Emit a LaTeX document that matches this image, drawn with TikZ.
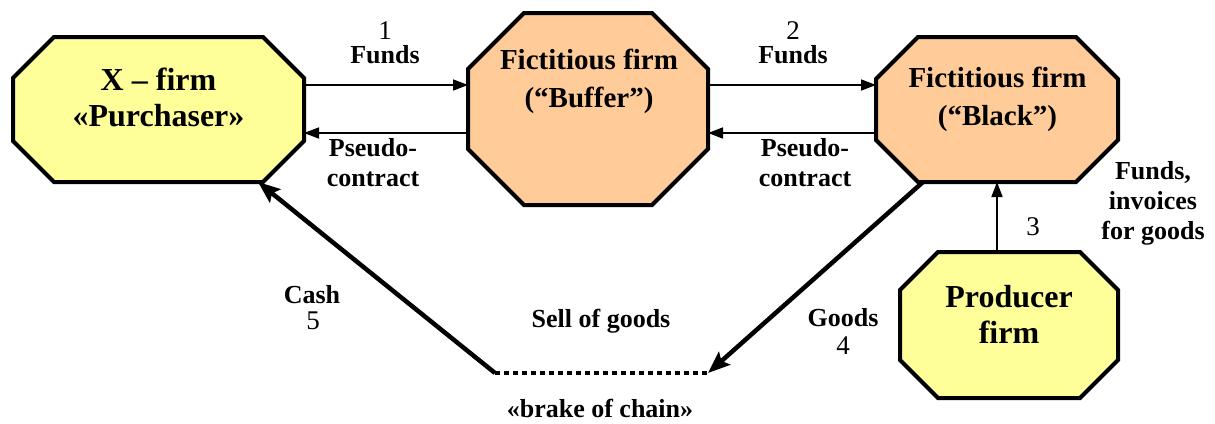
\documentclass[tikz,border=0pt]{standalone}
\usepackage{fontspec}
\setmainfont{Liberation Serif}[BoldFont={Liberation Serif Bold}]
\usetikzlibrary{arrows.meta,calc,backgrounds}
\definecolor{yel}{HTML}{FFFF99}
\definecolor{ora}{HTML}{FFCC99}
\tikzset{
  shapebox/.style n args={2}{draw=none, inner sep=0pt, outer sep=0pt, minimum width=#1, minimum height=#2},
  octline/.style={draw=black, line width=4pt, line join=miter},
  bigtxt/.style={align=center, inner sep=0pt, font=\fontsize{32}{36}\selectfont\bfseries},
  midtxt/.style={align=center, inner sep=0pt, font=\fontsize{29}{38}\selectfont\bfseries},
  lbl/.style={align=center, inner sep=0pt, font=\fontsize{26}{30}\selectfont\bfseries},
  num/.style={inner sep=0pt, font=\fontsize{27}{30}\selectfont},
  thin/.style={line width=1.6pt, -{Triangle[length=15pt,width=11pt]}},
  thick/.style={line width=4.5pt, -{Stealth[length=22pt,width=17pt,inset=4pt]}},
}
\newcommand\octagon[3]{%
  \filldraw[octline, fill=#3] ([xshift=#2]#1.north west) -- ([xshift=-#2]#1.north east)
    -- ([yshift=-#2]#1.north east) -- ([yshift=#2]#1.south east)
    -- ([xshift=-#2]#1.south east) -- ([xshift=#2]#1.south west)
    -- ([yshift=#2]#1.south west) -- ([yshift=-#2]#1.north west) -- cycle;}
\begin{document}
\begin{tikzpicture}[x=1pt,y=-1pt]
\useasboundingbox (0,0) rectangle (1215,423);
% shapes
\node[shapebox={291pt}{145pt}] (X) at (158.5,109.5) {};
\node[shapebox={240pt}{192pt}] (Bu) at (588,109) {};
\node[shapebox={242pt}{145pt}] (Bl) at (997,109.5) {};
\node[shapebox={218pt}{146pt}] (P) at (1009,325) {};
\begin{scope}[on background layer]
  \octagon{X}{41pt}{yel}
  \octagon{Bu}{56pt}{ora}
  \octagon{Bl}{42pt}{ora}
  \octagon{P}{38pt}{yel}
\end{scope}
% texts in shapes
\node[bigtxt] (Xt) at (158.5,97.5) {X -- firm\\«Purchaser»};
\node[midtxt] (But) at (589,81) {Fictitious firm\\(“Buffer”)};
\node[midtxt] (Blt) at (997.5,99) {Fictitious firm\\(“Black”)};
\node[bigtxt] (Pt) at (1009,314.5) {Producer\\firm};
% chain break
\coordinate (bl) at (495,373);
\coordinate (br) at (708,373);
\draw[line width=4.5pt, dash pattern=on 4.5pt off 4.5pt] (bl) -- (br);
% connectors
\draw[thin] ([yshift=24.5pt]X.east) -- ([yshift=24.5pt]X.east -| Bu.west);
\draw[thin] ([yshift=-23.5pt]X.east -| Bu.west) -- ([yshift=-23.5pt]X.east);
\draw[thin] ([yshift=24.5pt]Bl.west -| Bu.east) -- ([yshift=24.5pt]Bl.west);
\draw[thin] ([yshift=-23.5pt]Bl.west) -- ([yshift=-23.5pt]Bl.west -| Bu.east);
\draw[thin] (P.north -| Bl.south) -- (Bl.south);
\draw[thick] (bl) -- ([xshift=-46pt]X.south east);
\draw[thick] ([xshift=47pt]Bl.south west) -- (br);
% labels
\node[num] (n1) at (385,31) {1};
\node[lbl] (f1) at (385,55) {Funds};
\node[lbl] (p1) at (373,163) {Pseudo-\\contract};
\node[num] (n2) at (793,31) {2};
\node[lbl] (f2) at (793,55) {Funds};
\node[lbl] (p2) at (805,163) {Pseudo-\\contract};
\node[lbl] (f3) at (1153,203) {Funds,\\invoices\\for goods};
\node[num] (n3) at (1033,227) {3};
\node[lbl] (cash) at (312,295) {Cash};
\node[num] (n5) at (313,321) {5};
\node[lbl] (sell) at (601,321) {Sell of goods};
\node[lbl] (goods) at (843,318) {Goods};
\node[num] (n4) at (843,346) {4};
\node[lbl] (brk) at (600,408) {«brake of chain»};
\end{tikzpicture}
\end{document}
